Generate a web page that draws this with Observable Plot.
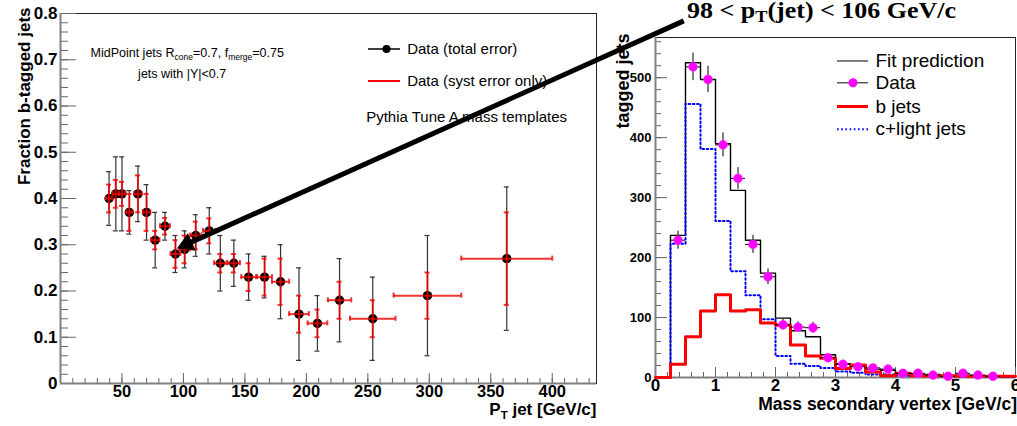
<!DOCTYPE html>
<html><head><meta charset="utf-8">
<script src="https://cdn.jsdelivr.net/npm/d3@7"></script>
<script src="https://cdn.jsdelivr.net/npm/@observablehq/plot@0.6"></script>
<style>
html,body{margin:0;padding:0;overflow:hidden;background:#fff;}
#wrap{position:relative;width:1017px;height:426px;background:#fff;font-family:"Liberation Sans",Arial,sans-serif;}
#wrap svg{position:absolute;top:0;}
#title{position:absolute;left:687px;top:1px;font:bold 23px/20px "Liberation Serif","Times New Roman",serif;white-space:nowrap;color:#000;transform:scaleX(1.13);transform-origin:0 0;}
#title sub{font-size:0.7em;vertical-align:-0.22em;line-height:0;}
</style></head><body>
<div id="wrap"><div id="title">98 &lt; p<sub>T</sub>(jet) &lt; 106 GeV/c</div></div>
<script>
// ---------- Left panel data: fraction of b-tagged jets vs jet pT ----------
const ptJet       = [39.5, 45, 50, 56, 63, 70, 77, 85, 93.5, 101, 110, 121, 130, 141, 153, 166, 179, 194, 209, 227, 254, 298.5, 363];
const fracB       = [0.40, 0.41, 0.41, 0.37, 0.41, 0.37, 0.31, 0.34, 0.28, 0.29, 0.32, 0.33, 0.26, 0.26, 0.23, 0.23, 0.22, 0.15, 0.13, 0.18, 0.14, 0.19, 0.27];
const ptHalfWidth = [2.5, 2.5, 2.5, 2.5, 3, 3, 3.5, 4, 4, 4.5, 4.5, 5, 5, 5, 6, 6, 7, 8, 8, 9.5, 18.5, 27.5, 37];
const errTotal    = [0.058, 0.08, 0.08, 0.047, 0.06, 0.06, 0.06, 0.03, 0.04, 0.04, 0.045, 0.05, 0.06, 0.05, 0.05, 0.045, 0.08, 0.10, 0.06, 0.09, 0.09, 0.13, 0.155];
const errSyst     = [0.03, 0.03, 0.026, 0.04, 0.04, 0.04, 0.02, 0.018, 0.03, 0.03, 0.03, 0.027, 0.02, 0.02, 0.03, 0.04, 0.05, 0.04, 0.03, 0.04, 0.04, 0.05, 0.10];
const xTicksLeft  = [50, 100, 150, 200, 250, 300, 350, 400];
const yTicksLeft  = [0, 0.1, 0.2, 0.3, 0.4, 0.5, 0.6, 0.7, 0.8];

// ---------- Right panel data: secondary-vertex mass templates ----------
const massEdges = [0, 0.25, 0.5, 0.75, 1, 1.25, 1.5, 1.75, 2, 2.25, 2.5, 2.75, 3, 3.25, 3.5, 3.75, 4, 4.25, 4.5, 4.75, 5, 5.25, 5.5, 5.75, 6];
const fitPred   = [0, 237, 525, 497, 390, 312, 229, 174, 99, 78, 68, 38, 23, 20, 14, 12, 6, 5, 5, 3, 4, 3, 2, 2];
const bJets     = [0, 22, 68, 111, 138, 111, 113, 91, 87, 54, 36, 32, 15, 21, 9, 3, 7, 3, 3, 3, 2, 2, 2, 2];
const cLight    = [0, 223, 456, 381, 261, 177, 137, 97, 36, 23, 19, 16, 10, 8, 5, 5, 3, 3, 2, 2, 2, 2, 1, 1];
const dataMass  = [0.375, 0.625, 0.875, 1.125, 1.375, 1.625, 1.875, 2.125, 2.375, 2.625, 2.875, 3.125, 3.375, 3.625, 3.875, 4.125, 4.375, 4.625, 4.875, 5.125, 5.375, 5.625];
const dataCount = [229, 518, 497, 388, 332, 222, 168, 88, 84, 83, 33, 22, 18, 16, 14, 7, 7, 4, 2, 7, 4, 2];
const dataErr   = [15, 23, 22, 20, 18, 15, 13, 9, 9, 9, 6, 5, 4, 4, 4, 3, 3, 2, 1, 3, 2, 1];
const xTicksRight = [0, 1, 2, 3, 4, 5, 6];
const yTicksRight = [0, 100, 200, 300, 400, 500];

const FONT = "Liberation Sans, Arial, sans-serif";
const wrap = document.getElementById("wrap");

// replace a_{b} with subscript tspans
function subify(svg) {
  svg.querySelectorAll("text").forEach(t => {
    const s = t.textContent;
    if (!s.includes("_{")) return;
    const fs = parseFloat(getComputedStyle(t).fontSize) || 12;
    t.textContent = "";
    const re = /_\{([^}]*)\}/g; let last = 0, m;
    const NS = "http://www.w3.org/2000/svg";
    while ((m = re.exec(s))) {
      const a = document.createElementNS(NS, "tspan"); a.textContent = s.slice(last, m.index);
      if (last > 0) a.setAttribute("dy", -0.25 * fs);
      t.appendChild(a);
      const b = document.createElementNS(NS, "tspan"); b.textContent = m[1];
      b.setAttribute("dy", 0.25 * fs); b.setAttribute("font-size", 0.68 * fs);
      t.appendChild(b);
      last = re.lastIndex;
    }
    const c = document.createElementNS(NS, "tspan"); c.textContent = s.slice(last);
    c.setAttribute("dy", -0.25 * fs); t.appendChild(c);
  });
}

// ================= RIGHT PANEL =================
{
  const W = 417, H = 426, m = {top: 37, right: 2, bottom: 49, left: 55};
  const xDom = [0, 6], yDom = [0, 567];
  const pw = W - m.left - m.right, ph = H - m.top - m.bottom;
  const nx = f => xDom[0] + f * (xDom[1] - xDom[0]);
  const ny = f => yDom[0] + f * (yDom[1] - yDom[0]);
  const steps = vals => massEdges.map((e, i) => ({x: e, y: vals[Math.min(i, vals.length - 1)]}));
  const half = (massEdges[1] - massEdges[0]) / 2;
  const pts = dataMass.map((x, i) => ({x, y: dataCount[i], e: dataErr[i]}));
  const legY = [0.931, 0.867, 0.797, 0.730].map(ny);
  const lx1 = nx(0.5056), lx2 = nx(0.5917), ltx = nx(0.611);
  const DOTS = "1.6,2.6";

  const right = Plot.plot({
    width: W, height: H,
    marginTop: m.top, marginRight: m.right, marginBottom: m.bottom, marginLeft: m.left,
    style: {background: "transparent", fontFamily: FONT, overflow: "visible"},
    x: {domain: xDom, label: null},
    y: {domain: yDom, label: null},
    marks: [
      Plot.frame({stroke: "#222", strokeWidth: 1}),
      // ticks (inside)
      Plot.ruleX(d3.range(0.2, 6, 0.2), {stroke: "#666", insetTop: ph - 5}),
      Plot.ruleX(xTicksRight, {stroke: "#666", insetTop: ph - 10}),
      Plot.ruleY(d3.range(20, 567, 20), {stroke: "#666", insetRight: pw - 6}),
      Plot.ruleY(yTicksRight, {stroke: "#666", insetRight: pw - 12}),
      Plot.ruleX([0], {stroke: "#808080", strokeWidth: 2}),
      Plot.ruleY([0], {stroke: "#808080", strokeWidth: 2}),
      Plot.axisX(xTicksRight, {tickSize: 0, tickPadding: 1, fontSize: 17, fontWeight: "bold", tickFormat: d => String(d), label: null}),
      Plot.axisY(yTicksRight, {tickSize: 0, tickPadding: 4, fontSize: 13, fontWeight: "bold", tickFormat: d => String(d), label: null}),
      // histograms
      Plot.line(steps(fitPred), {x: "x", y: "y", curve: "step-after", stroke: "#000", strokeWidth: 1.4}),
      Plot.line(steps(cLight), {x: "x", y: "y", curve: "step-after", stroke: "#0000ff", strokeWidth: 2, strokeDasharray: DOTS}),
      Plot.line(steps(bJets), {x: "x", y: "y", curve: "step-after", stroke: "#ff0000", strokeWidth: 3}),
      // data
      Plot.ruleX(pts, {x: "x", y1: d => d.y - d.e, y2: d => d.y + d.e, stroke: "#000", strokeWidth: 1}),
      Plot.ruleY(pts, {y: "y", x1: d => d.x - half, x2: d => d.x + half, stroke: "#000", strokeWidth: 1}),
      Plot.dot(pts, {x: "x", y: "y", r: 4.5, fill: "#ff00ff", stroke: "#ff40ff", strokeWidth: 0.5}),
      // legend
      Plot.ruleY([legY[0]], {x1: lx1, x2: lx2, stroke: "#555", strokeWidth: 1.5}),
      Plot.ruleY([legY[1]], {x1: lx1, x2: lx2, stroke: "#555", strokeWidth: 1.5}),
      Plot.dot([0], {x: (lx1 + lx2) / 2, y: legY[1], r: 4.5, fill: "#ff00ff"}),
      Plot.ruleY([legY[2]], {x1: lx1, x2: lx2, stroke: "#ff0000", strokeWidth: 3}),
      Plot.ruleY([legY[3]], {x1: lx1, x2: lx2, stroke: "#0000ff", strokeWidth: 2, strokeDasharray: DOTS}),
      Plot.text(["Fit prediction", "Data", "b jets", "c+light jets"], {x: ltx, y: (d, i) => legY[i], text: d => d, textAnchor: "start", fontSize: 19}),
      // axis titles
      Plot.text(["tagged jets"], {text: d => d, frameAnchor: "top-left", rotate: -90, textAnchor: "end", dx: -39, dy: -4, fontSize: 18, fontWeight: "bold"}),
      Plot.text(["Mass secondary vertex [GeV/c]"], {text: d => d, frameAnchor: "bottom-right", textAnchor: "end", dx: 1.5, dy: 32, fontSize: 17.5, fontWeight: "bold"})
    ]
  });
  right.style.left = "600px";
  wrap.appendChild(right);
}

// ================= LEFT PANEL =================
{
  const W = 700, H = 426, m = {top: 13, right: 104, bottom: 43, left: 60};
  const xDom = [0, 436], yDom = [0, 0.8];
  const pw = W - m.left - m.right, ph = H - m.top - m.bottom;
  const nx = f => xDom[0] + f * (xDom[1] - xDom[0]);
  const ny = f => yDom[0] + f * (yDom[1] - yDom[0]);
  const pts = ptJet.map((x, i) => ({x, y: fracB[i], ex: ptHalfWidth[i], et: errTotal[i], es: errSyst[i]}));
  const RED = "#ee0000";
  // pointer arrow: from the title to the 98-106 GeV/c bin
  const arrowTail = {x: 507, y: 0.784}, arrowHead = {x: 95, y: 0.292};
  const sx = pw / (xDom[1] - xDom[0]), sy = ph / (yDom[1] - yDom[0]);
  const dxp = (arrowHead.x - arrowTail.x) * sx, dyp = -(arrowHead.y - arrowTail.y) * sy;
  const len = Math.hypot(dxp, dyp), ux = dxp / len, uy = dyp / len;
  const back = 10.5;
  const triC = {x: arrowHead.x - ux * back / sx, y: arrowHead.y + uy * back / sy};
  const rot = Math.atan2(dyp, dxp) * 180 / Math.PI + 90;

  const left = Plot.plot({
    width: W, height: H,
    marginTop: m.top, marginRight: m.right, marginBottom: m.bottom, marginLeft: m.left,
    style: {background: "transparent", fontFamily: FONT, overflow: "visible"},
    x: {domain: xDom, label: null},
    y: {domain: yDom, label: null},
    marks: [
      Plot.frame({stroke: "#222", strokeWidth: 1}),
      Plot.ruleX(d3.range(10, 436, 10), {stroke: "#666", insetTop: ph - 5}),
      Plot.ruleX(xTicksLeft, {stroke: "#666", insetTop: ph - 10}),
      Plot.ruleY(d3.range(0.02, 0.8, 0.02), {stroke: "#666", insetRight: pw - 8}),
      Plot.ruleY(yTicksLeft, {stroke: "#666", insetRight: pw - 16}),
      Plot.ruleX([0], {stroke: "#808080", strokeWidth: 2}),
      Plot.ruleY([0], {stroke: "#808080", strokeWidth: 2}),
      Plot.axisX(xTicksLeft, {tickSize: 0, tickPadding: 2, fontSize: 16.5, fontWeight: "bold", tickFormat: d => String(d), label: null}),
      Plot.axisY(yTicksLeft, {tickSize: 0, tickPadding: 3, fontSize: 17, fontWeight: "bold", tickFormat: d => String(d), label: null}),
      // total error (black)
      Plot.ruleX(pts, {x: "x", y1: d => d.y - d.et, y2: d => d.y + d.et, stroke: "#333", strokeWidth: 1.2}),
      Plot.ruleY(pts, {x1: "x", x2: "x", y: d => d.y + d.et, insetLeft: -2.5, insetRight: -2.5, stroke: "#333", strokeWidth: 1.2}),
      Plot.ruleY(pts, {x1: "x", x2: "x", y: d => d.y - d.et, insetLeft: -2.5, insetRight: -2.5, stroke: "#333", strokeWidth: 1.2}),
      Plot.dot(pts, {x: "x", y: "y", r: 4.7, fill: "#000"}),
      // systematic error (red)
      Plot.ruleX(pts, {x: "x", y1: d => d.y - d.es, y2: d => d.y + d.es, stroke: RED, strokeWidth: 2, strokeOpacity: 0.8}),
      Plot.ruleY(pts, {x1: "x", x2: "x", y: d => d.y + d.es, insetLeft: -2.5, insetRight: -2.5, stroke: RED, strokeWidth: 2, strokeOpacity: 0.8}),
      Plot.ruleY(pts, {x1: "x", x2: "x", y: d => d.y - d.es, insetLeft: -2.5, insetRight: -2.5, stroke: RED, strokeWidth: 2, strokeOpacity: 0.8}),
      Plot.ruleY(pts, {y: "y", x1: d => d.x - d.ex, x2: d => d.x + d.ex, stroke: RED, strokeWidth: 2, strokeOpacity: 0.8}),
      Plot.ruleX(pts, {x: d => d.x - d.ex, y1: "y", y2: "y", insetTop: -2.5, insetBottom: -2.5, stroke: RED, strokeWidth: 2, strokeOpacity: 0.8}),
      Plot.ruleX(pts, {x: d => d.x + d.ex, y1: "y", y2: "y", insetTop: -2.5, insetBottom: -2.5, stroke: RED, strokeWidth: 2, strokeOpacity: 0.8}),
      // annotations
      Plot.text(["MidPoint jets R_{cone}=0.7, f_{merge}=0.75"], {text: d => d, x: nx(0.056), y: ny(0.894), textAnchor: "start", fontSize: 12.5}),
      Plot.text(["jets with |Y|<0.7"], {text: d => d, x: nx(0.227), y: ny(0.8376), textAnchor: "middle", fontSize: 12.5}),
      Plot.ruleY([ny(0.9043)], {x1: nx(0.5746), x2: nx(0.6343), stroke: "#000", strokeWidth: 1.5}),
      Plot.dot([0], {x: nx(0.6082), y: ny(0.9043), r: 4, fill: "#000"}),
      Plot.ruleY([ny(0.8178)], {x1: nx(0.5746), x2: nx(0.6343), stroke: "#ff0000", strokeWidth: 2}),
      Plot.text(["Data (total error)", "Data (syst error only)"], {text: d => d, x: nx(0.6468), y: (d, i) => [ny(0.9043), ny(0.8178)][i], textAnchor: "start", fontSize: 15}),
      Plot.text(["Pythia Tune A mass templates"], {text: d => d, x: nx(0.5703), y: ny(0.7186), textAnchor: "start", fontSize: 15}),
      // axis titles
      Plot.text(["Fraction b-tagged jets"], {text: d => d, frameAnchor: "top-left", rotate: -90, textAnchor: "end", dx: -43, dy: -6, fontSize: 17, fontWeight: "bold"}),
      Plot.text(["P_{T} jet [GeV/c]"], {text: d => d, frameAnchor: "bottom-right", textAnchor: "end", dy: 31, fontSize: 17, fontWeight: "bold"}),
      // arrow shaft + filled head
      Plot.link([0], {x1: arrowTail.x, y1: arrowTail.y, x2: triC.x, y2: triC.y, stroke: "#000", strokeWidth: 5}),
      Plot.dot([0], {x: triC.x, y: triC.y, symbol: "triangle", r: 7, fill: "#000", rotate: rot})
    ]
  });
  left.style.left = "0px";
  wrap.appendChild(left);
  subify(left);
}
</script>
</body></html>
